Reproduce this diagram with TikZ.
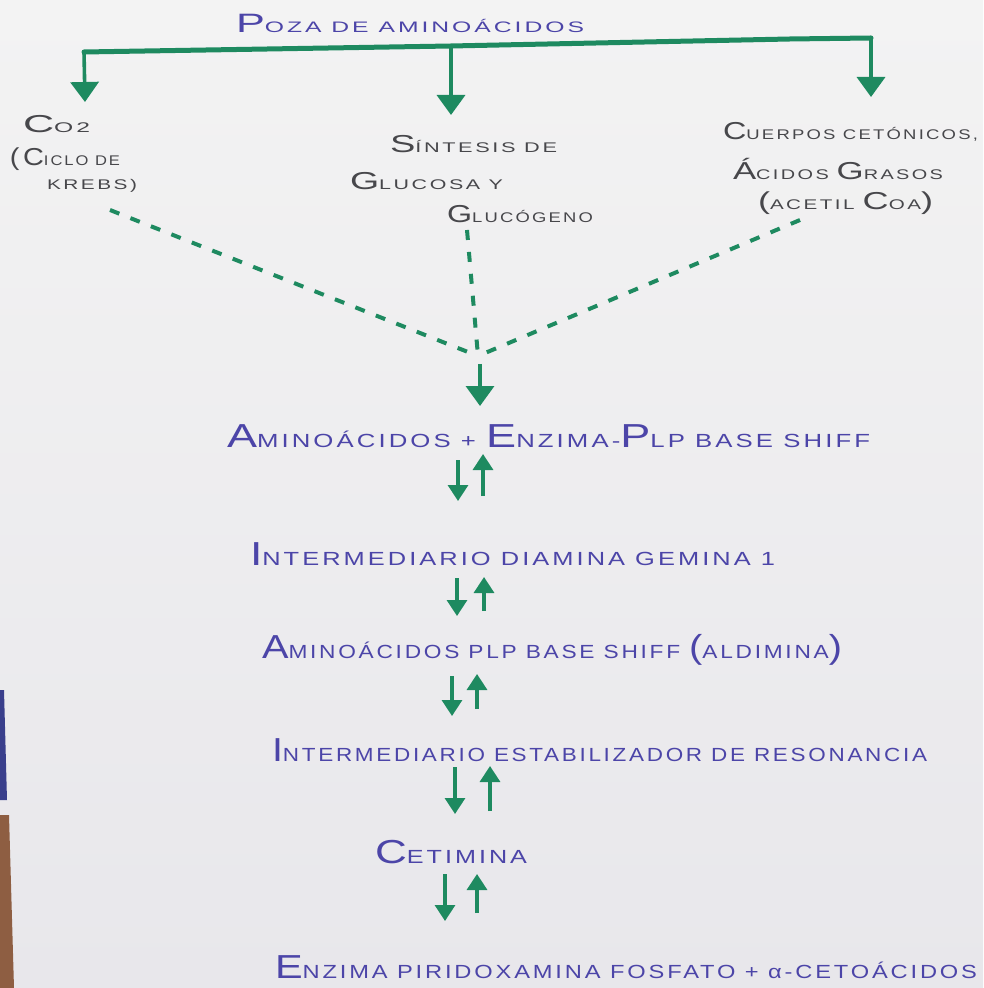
\documentclass[tikz,border=0pt]{standalone}
\usepackage{graphicx}
\usepackage{fontspec}
\setmainfont{Liberation Sans}[LetterSpace=12]
\usetikzlibrary{arrows.meta}
\definecolor{paperA}{HTML}{F3F3F3}
\definecolor{paperB}{HTML}{E8E7EB}
\definecolor{ink}{HTML}{4C45A8}
\definecolor{pencil}{HTML}{47474B}
\definecolor{grn}{HTML}{1E8A60}
\definecolor{tableblue}{HTML}{3A3F8C}
\definecolor{tablebrown}{HTML}{8E5E42}
\newcommand\Bg[1]{\scalebox{1.75}{#1}}
\newcommand\hw[2]{\resizebox{\dimexpr #1pt/2\relax}{\height}{#2}}
\begin{document}
\begin{tikzpicture}[x=0.5pt,y=-0.5pt,
  lbl/.style={anchor=base west,inner sep=0pt,outer sep=0pt,text=ink,font=\fontsize{9.5}{11}\selectfont},
  toplbl/.style={lbl,text=pencil,font=\fontsize{7}{9}\selectfont},
  titlelbl/.style={lbl,font=\fontsize{7.6}{9}\selectfont},
  gline/.style={draw=grn,line width=2.5pt,line cap=round,line join=round},
  garrow/.style={draw=grn,line width=1.8pt,-{Triangle[width=14pt,length=10pt]}},
  dashline/.style={draw=grn,line width=2pt,dash pattern=on 5pt off 6pt},
  updn/.style={draw=grn,line width=1.6pt,-{Triangle[width=10pt,length=8pt]}}]
\useasboundingbox (0,0) rectangle (983,988);
\clip (0,0) rectangle (983,988);
\shade[top color=paperA,bottom color=paperB] (0,0) rectangle (983,988);
% table strips at the left edge
\fill[tableblue] (0,690) -- (4,690) -- (7,800) -- (0,800) -- cycle;
\fill[tablebrown] (0,815) -- (9,815) -- (14,988) -- (0,988) -- cycle;

% texts
\node[titlelbl] (pool) at (236,33) {\hw{348}{\Bg{P}OZA DE AMINOÁCIDOS}};
\node[toplbl] (co2) at (23,133) {\hw{67}{\Bg{C}O2}};
\node[toplbl] (ciclo) at (10,166) {\hw{110}{\Bg{(C}ICLO DE}};
\node[toplbl] (krebs) at (47,190) {\hw{90}{KREBS)}};
\node[toplbl] (sint) at (390,153) {\hw{167}{\Bg{S}ÍNTESIS DE}};
\node[toplbl] (gluc) at (350,190) {\hw{153}{\Bg{G}LUCOSA Y}};
\node[toplbl] (glucog) at (447,223) {\hw{146}{\Bg{G}LUCÓGENO}};
\node[toplbl] (cuerpos) at (723,140) {\hw{255}{\Bg{C}UERPOS CETÓNICOS,}};
\node[toplbl] (acidos) at (733,180) {\hw{210}{\Bg{Á}CIDOS \Bg{G}RASOS}};
\node[toplbl] (acetil) at (758,210) {\hw{175}{\Bg{(}ACETIL \Bg{C}OA\Bg{)}}};

\node[lbl] (aa) at (227,447) {\hw{643}{\Bg{A}MINOÁCIDOS + \Bg{E}NZIMA-\Bg{P}LP BASE SHIFF}};
\node[lbl] (gem) at (250,565) {\hw{525}{\Bg{I}NTERMEDIARIO DIAMINA GEMINA 1}};
\node[lbl] (ald) at (262,658) {\hw{580}{\Bg{A}MINOÁCIDOS PLP BASE SHIFF \Bg{(}ALDIMINA\Bg{)}}};
\node[lbl] (res) at (272,761) {\hw{655}{\Bg{I}NTERMEDIARIO ESTABILIZADOR DE RESONANCIA}};
\node[lbl] (cet) at (375,863) {\hw{152}{\Bg{C}ETIMINA}};
\node[lbl] (enz) at (275,978) {\hw{702}{\Bg{E}NZIMA PIRIDOXAMINA FOSFATO + α-CETOÁCIDOS}};

% top bracket
\coordinate (hl) at (84,52);
\coordinate (hm) at (451,46);
\coordinate (hs) at (790,39);
\coordinate (hr) at (871,38);
\draw[gline] (hl) -- (hm) -- (hs) -- (hr);
\coordinate (tl) at (85,102);
\coordinate (tm) at (451,115);
\coordinate (tr) at (871,97);
\draw[garrow] (hl) -- (tl);
\draw[garrow] (hm) -- (tm);
\draw[garrow] (hr) -- (tr);

% dashed convergence
\coordinate (d1) at (110,210);
\coordinate (d2) at (467,230);
\coordinate (d3) at (800,220);
\coordinate (j) at (478,356);
\draw[dashline] (d1) -- (j);
\draw[dashline] (d2) -- (j);
\draw[dashline] (d3) -- (j);
\coordinate (j2) at (480,364);
\coordinate (j3) at (480,406);
\draw[garrow] (j2) -- (j3);

% reversible arrows
\coordinate (a1) at (458,460); \coordinate (a2) at (458,501);
\coordinate (b1) at (483,496); \coordinate (b2) at (483,454);
\draw[updn] (a1) -- (a2); \draw[updn] (b1) -- (b2);
\coordinate (a3) at (457,578); \coordinate (a4) at (457,616);
\coordinate (b3) at (484,611); \coordinate (b4) at (484,577);
\draw[updn] (a3) -- (a4); \draw[updn] (b3) -- (b4);
\coordinate (a5) at (452,676); \coordinate (a6) at (452,716);
\coordinate (b5) at (477,709); \coordinate (b6) at (477,674);
\draw[updn] (a5) -- (a6); \draw[updn] (b5) -- (b6);
\coordinate (a7) at (455,767); \coordinate (a8) at (455,814);
\coordinate (b7) at (490,811); \coordinate (b8) at (490,766);
\draw[updn] (a7) -- (a8); \draw[updn] (b7) -- (b8);
\coordinate (a9) at (445,874); \coordinate (a10) at (445,921);
\coordinate (b9) at (477,913); \coordinate (b10) at (477,874);
\draw[updn] (a9) -- (a10); \draw[updn] (b9) -- (b10);
\end{tikzpicture}
\end{document}
